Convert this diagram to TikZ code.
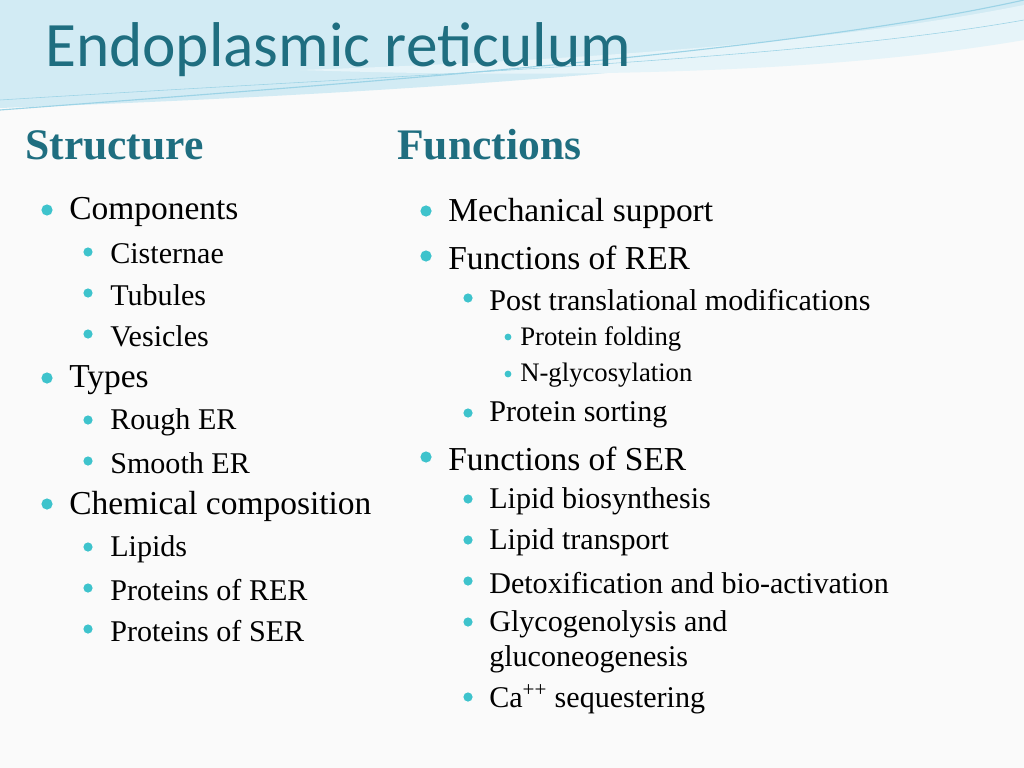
\documentclass[tikz,border=0pt]{standalone}
\usepackage{fontspec}
\setmainfont{Liberation Serif}
\newfontfamily\titlefont{Carlito}
\usetikzlibrary{positioning}
\definecolor{headteal}{HTML}{1F6E80}
\definecolor{dotcyan}{HTML}{3EC3CC}
\definecolor{wave}{HTML}{9CD3E6}
\begin{document}
\begin{tikzpicture}[x=0.025cm,y=-0.025cm,
  dotA/.style={fill=dotcyan,circle,inner sep=0pt,minimum size=0.28cm},
  dotB/.style={fill=dotcyan,circle,inner sep=0pt,minimum size=0.23cm},
  dotC/.style={fill=dotcyan,circle,inner sep=0pt,minimum size=0.17cm},
  txtA/.style={anchor=west,inner sep=0pt,yshift=-0.05cm,font=\fontsize{23.8}{28}\selectfont},
  txtB/.style={anchor=west,inner sep=0pt,yshift=-0.05cm,font=\fontsize{21.4}{25}\selectfont},
  txtC/.style={anchor=west,inner sep=0pt,yshift=-0.04cm,font=\fontsize{19}{23}\selectfont},
  heading/.style={anchor=west,inner sep=0pt,text=headteal,font=\bfseries\fontsize{31}{36}\selectfont}]
      \fill[gray!4] (0,0) rectangle (1024,768);
      \useasboundingbox (0,0) rectangle (1024,768);

      % top wave
      \fill[wave!45] (0,0) -- (1024,0) -- (1024,20) .. controls (800,60) and (500,90) .. (0,108) -- cycle;
      \fill[wave!25] (300,70) .. controls (600,60) and (850,40) .. (1024,5) -- (1024,40) .. controls (850,70) and (600,80) .. (300,70);
      \draw[wave,thick] (0,110) .. controls (400,80) and (800,50) .. (1024,0);
      \draw[wave,thin] (0,100) .. controls (400,75) and (800,60) .. (1024,20);

      \node[anchor=west,inner sep=0pt,text=headteal,font=\titlefont\fontsize{45}{54}\selectfont] (title) at (45,50) {Endoplasmic reticulum};

      \node[heading] (hs) at (25,145) {Structure};
      \node[heading] (hf) at (397,145) {Functions};

      % structure column
      \node[dotA] (s1) at (47,210) {};
      \node[txtA] (s1t) at (69,210) {Components};
      \node[dotB] (s2) at (88,252) {};
      \node[txtB] (s2t) at (110,252) {Cisternae};
      \node[dotB] (s3) at (88,293) {};
      \node[txtB] (s3t) at (110,293) {Tubules};
      \node[dotB] (s4) at (88,334) {};
      \node[txtB] (s4t) at (110,334) {Vesicles};
      \node[dotA] (s5) at (47,378) {};
      \node[txtA] (s5t) at (69,378) {Types};
      \node[dotB] (s6) at (88,420) {};
      \node[txtB] (s6t) at (110,420) {Rough ER};
      \node[dotB] (s7) at (88,461) {};
      \node[txtB] (s7t) at (110,461) {Smooth ER};
      \node[dotA] (s8) at (47,504) {};
      \node[txtA] (s8t) at (69,504) {Chemical composition};
      \node[dotB] (s9) at (88,547) {};
      \node[txtB] (s9t) at (110,547) {Lipids};
      \node[dotB] (s10) at (88,588) {};
      \node[txtB] (s10t) at (110,588) {Proteins of RER};
      \node[dotB] (s11) at (88,629) {};
      \node[txtB] (s11t) at (110,629) {Proteins of SER};

      % functions column
      \node[dotA] (f1) at (426,211) {};
      \node[txtA] (f1t) at (448,211) {Mechanical support};
      \node[dotA] (f2) at (426,256) {};
      \node[txtA] (f2t) at (448,256) {Functions of RER};
      \node[dotB] (f3) at (468,298) {};
      \node[txtB] (f3t) at (489,298) {Post translational modifications};
      \node[dotC] (f4) at (508,337) {};
      \node[txtC] (f4t) at (520,337) {Protein folding};
      \node[dotC] (f5) at (508,374) {};
      \node[txtC] (f5t) at (520,374) {N-glycosylation};
      \node[dotB] (f6) at (468,413) {};
      \node[txtB] (f6t) at (489,413) {Protein sorting};
      \node[dotA] (f7) at (426,457) {};
      \node[txtA] (f7t) at (448,457) {Functions of SER};
      \node[dotB] (f8) at (468,499) {};
      \node[txtB] (f8t) at (489,499) {Lipid biosynthesis};
      \node[dotB] (f9) at (468,540) {};
      \node[txtB] (f9t) at (489,540) {Lipid transport};
      \node[dotB] (f10) at (468,581) {};
      \node[txtB] (f10t) at (489,581) {Detoxification and bio-activation};
      \node[dotB] (f11) at (468,622) {};
      \node[txtB] (f11t) at (489,622) {Glycogenolysis and};
      \node[txtB] (f12t) at (489,657) {gluconeogenesis};
      \node[dotB] (f13) at (468,697) {};
      \node[txtB] (f13t) at (489,697) {Ca\textsuperscript{++} sequestering};
\end{tikzpicture}
\end{document}
